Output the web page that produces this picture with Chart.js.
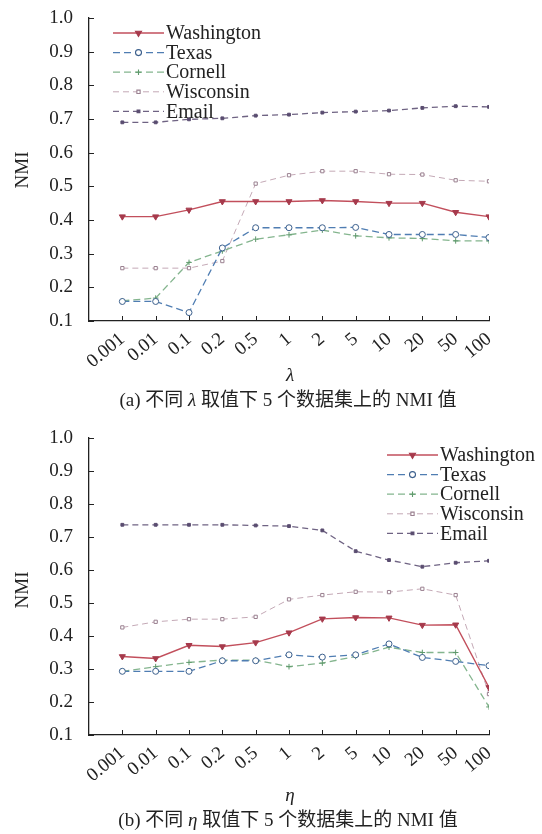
<!DOCTYPE html>
<html>
<head>
<meta charset="utf-8">
<script src="https://cdn.jsdelivr.net/npm/chart.js@4.4.1/dist/chart.umd.min.js"></script>
<style>
  body { margin: 0; background: #fff; }
  .page { position: relative; width: 542px; height: 834px; font-family: "Liberation Serif", "Noto Sans CJK SC", serif; color: #222; }
  .panel { position: absolute; left: 0; width: 542px; }
  .panel canvas { position: absolute; left: 0; top: 0; }
  .ytitle { position: absolute; left: 22px; width: 60px; margin-left: -30px; text-align: center; font-size: 19px; transform: rotate(-90deg); line-height: 20px; }
  .xtitle { position: absolute; left: 280px; width: 20px; text-align: center; font-size: 19px; font-style: italic; line-height: 20px; }
  .caption { position: absolute; left: 0; width: 576px; text-align: center; font-size: 19px; line-height: 22px; }
</style>
</head>
<body>
<div class="page">
  <div class="panel" style="top:0;height:420px">
    <canvas id="chartA" width="542" height="420"></canvas>
    <div class="ytitle" style="top:160px">NMI</div>
    <div class="xtitle" style="top:365px">λ</div>
    <div class="caption" style="top:389px">(a) 不同 <i>λ</i> 取值下 5 个数据集上的 NMI 值</div>
  </div>
  <div class="panel" style="top:420px;height:414px">
    <canvas id="chartB" width="542" height="414"></canvas>
    <div class="ytitle" style="top:160px">NMI</div>
    <div class="xtitle" style="top:365px">η</div>
    <div class="caption" style="top:389px">(b) 不同 <i>η</i> 取值下 5 个数据集上的 NMI 值</div>
  </div>
</div>
<script>
// parameter values on the x axis
const paramLabels = ["0.001", "0.01", "0.1", "0.2", "0.5", "1", "2", "5", "10", "20", "50", "100"]
const yTicks = [0.1, 0.2, 0.3, 0.4, 0.5, 0.6, 0.7, 0.8, 0.9, 1.0]
const datasetNames = ["Washington", "Texas", "Cornell", "Wisconsin", "Email"]

// (a) NMI for different lambda
const washA = [0.41, 0.41, 0.43, 0.455, 0.455, 0.455, 0.458, 0.455, 0.45, 0.45, 0.423, 0.41]
const texasA = [0.158, 0.158, 0.125, 0.317, 0.377, 0.377, 0.377, 0.378, 0.357, 0.357, 0.357, 0.348]
const cornellA = [0.16, 0.168, 0.274, 0.308, 0.343, 0.356, 0.37, 0.353, 0.347, 0.345, 0.338, 0.338]
const wiscA = [0.257, 0.257, 0.257, 0.278, 0.508, 0.533, 0.545, 0.545, 0.536, 0.535, 0.518, 0.515]
const emailA = [0.69, 0.69, 0.699, 0.702, 0.71, 0.713, 0.719, 0.722, 0.725, 0.733, 0.738, 0.736]

// (b) NMI for different eta
const washB = [0.338, 0.332, 0.372, 0.368, 0.38, 0.41, 0.452, 0.456, 0.455, 0.433, 0.434, 0.244]
const texasB = [0.293, 0.293, 0.293, 0.325, 0.325, 0.343, 0.336, 0.343, 0.376, 0.335, 0.323, 0.31]
const cornellB = [0.293, 0.307, 0.32, 0.327, 0.327, 0.307, 0.318, 0.338, 0.366, 0.35, 0.35, 0.185]
const wiscB = [0.426, 0.443, 0.451, 0.451, 0.458, 0.511, 0.524, 0.534, 0.533, 0.543, 0.524, 0.224]
const emailB = [0.737, 0.737, 0.737, 0.737, 0.735, 0.733, 0.72, 0.657, 0.63, 0.61, 0.622, 0.628]

// line look for each data set
const styles = [
  { color: "#c24f5c", point: "#a63a4c", dash: [], width: 1.4, pointStyle: "triangle", radius: 3.5, rotation: 180, fill: "#a63a4c" },
  { color: "#4f7db2", point: "#3b5f8c", dash: [7, 4], width: 1.3, pointStyle: "circle", radius: 3, rotation: 0, fill: "#ffffff" },
  { color: "#84b58e", point: "#5f9a6c", dash: [7, 4], width: 1.3, pointStyle: "cross", radius: 2.8, rotation: 0, fill: "#5f9a6c" },
  { color: "#c4a9b6", point: "#9a8090", dash: [6, 4], width: 1.0, pointStyle: "rect", radius: 2.3, rotation: 0, fill: "#ffffff" },
  { color: "#6f6383", point: "#5a4d70", dash: [6, 4], width: 1.3, pointStyle: "rect", radius: 2, rotation: 0, fill: "#5a4d70" },
]

const serif = "'Liberation Serif', 'Times New Roman', serif"

// inward tick marks on both axes
const innerTicks = {
  id: "innerTicks",
  afterDraw(chart) {
    const ctx = chart.ctx
    const area = chart.chartArea
    ctx.save()
    ctx.strokeStyle = "#222"
    ctx.lineWidth = 1
    ctx.beginPath()
    yTicks.forEach((v) => {
      const y = Math.round(chart.scales.y.getPixelForValue(v)) + 0.5
      ctx.moveTo(area.left, y)
      ctx.lineTo(area.left + 5, y)
    })
    paramLabels.forEach((_, i) => {
      const x = Math.round(chart.scales.x.getPixelForValue(i)) + 0.5
      ctx.moveTo(x, area.bottom)
      ctx.lineTo(x, area.bottom - 5)
    })
    ctx.stroke()
    ctx.restore()
  },
}

// legend: short line with marker, then the name
const lineLegend = {
  id: "lineLegend",
  afterDraw(chart, args, opts) {
    const ctx = chart.ctx
    ctx.save()
    chart.data.datasets.forEach((ds, i) => {
      const st = styles[i]
      const y = opts.top + i * opts.step
      ctx.strokeStyle = st.color
      ctx.lineWidth = st.width
      ctx.setLineDash(st.dash)
      ctx.beginPath()
      ctx.moveTo(opts.left, y)
      ctx.lineTo(opts.left + opts.length, y)
      ctx.stroke()
      ctx.setLineDash([])
      ctx.fillStyle = st.fill
      ctx.strokeStyle = st.point
      ctx.lineWidth = 1.1
      Chart.helpers.drawPoint(ctx, { pointStyle: st.pointStyle, radius: st.radius, rotation: st.rotation, borderWidth: 1.1 }, opts.left + opts.length / 2, y)
      ctx.fillStyle = "#222"
      ctx.font = "20px " + serif
      ctx.textBaseline = "middle"
      ctx.textAlign = "left"
      ctx.fillText(ds.label, opts.left + opts.length + 2, y + 1)
    })
    ctx.restore()
  },
}

function makeChart(id, series, legend) {
  const datasets = series.map((values, i) => {
    const st = styles[i]
    return {
      label: datasetNames[i],
      data: values.map((v, k) => ({ x: k, y: v })),
      borderColor: st.color,
      borderWidth: st.width,
      borderDash: st.dash,
      pointStyle: st.pointStyle,
      pointRadius: st.radius,
      pointRotation: st.rotation,
      pointBackgroundColor: st.fill,
      pointBorderColor: st.point,
      pointBorderWidth: 1,
      tension: 0,
      fill: false,
    }
  })

  return new Chart(document.getElementById(id), {
    type: "line",
    data: { datasets },
    plugins: [innerTicks, lineLegend],
    options: {
      responsive: false,
      animation: false,
      layout: { padding: { left: 0, right: 53, top: 18, bottom: 0 } },
      plugins: {
        legend: { display: false },
        tooltip: { enabled: false },
        lineLegend: legend,
      },
      scales: {
        x: {
          type: "linear",
          min: -1,
          max: paramLabels.length - 1,
          afterBuildTicks: (scale) => {
            scale.ticks = paramLabels.map((_, i) => ({ value: i }))
          },
          afterFit: (scale) => {
            scale.height = 99
            scale.paddingLeft = 0
            scale.paddingRight = 0
          },
          grid: { display: true, drawOnChartArea: false, drawTicks: false },
          border: { display: true, color: "#222", width: 1.3 },
          ticks: {
            autoSkip: false,
            minRotation: 40,
            maxRotation: 40,
            padding: 7,
            color: "#222",
            font: { family: serif, size: 19 },
            callback: (v) => paramLabels[v],
          },
        },
        y: {
          min: 0.1,
          max: 1.0,
          afterBuildTicks: (scale) => {
            scale.ticks = yTicks.map((v) => ({ value: v }))
          },
          afterFit: (scale) => {
            scale.width = 89
            scale.paddingTop = 0
            scale.paddingBottom = 0
          },
          grid: { display: true, drawOnChartArea: false, drawTicks: false },
          border: { display: true, color: "#222", width: 1.3 },
          ticks: {
            padding: 16,
            color: "#222",
            font: { family: serif, size: 19 },
            callback: (v) => v.toFixed(1),
          },
        },
      },
    },
  })
}

makeChart("chartA", [washA, texasA, cornellA, wiscA, emailA], { left: 113, length: 51, top: 33, step: 19.6 })
makeChart("chartB", [washB, texasB, cornellB, wiscB, emailB], { left: 387, length: 51, top: 35, step: 19.6 })
</script>
</body>
</html>
